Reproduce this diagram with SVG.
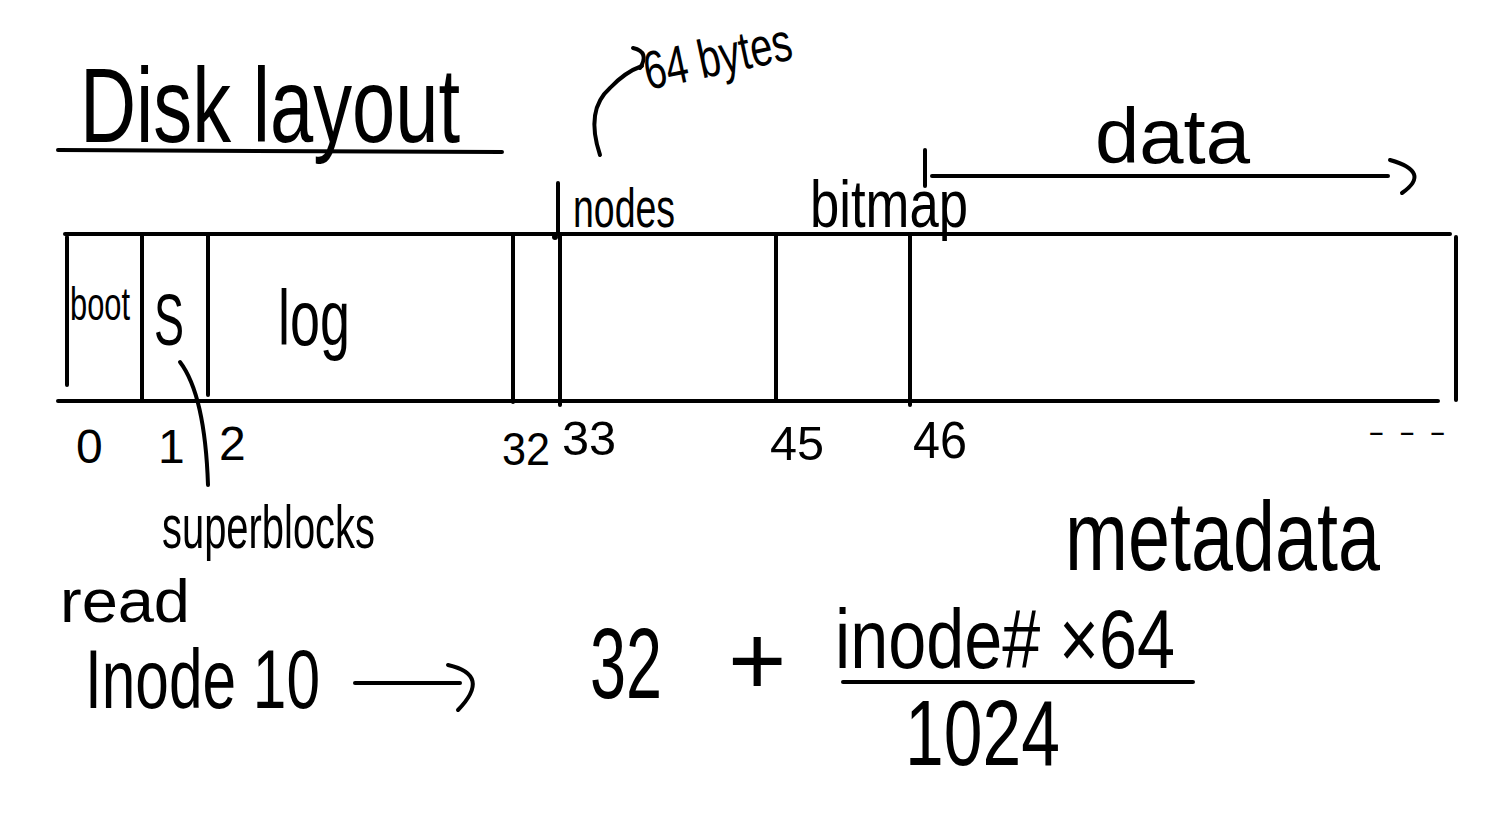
<svg xmlns="http://www.w3.org/2000/svg" width="1505" height="835" viewBox="0 0 1505 835">
<style>
.ln{stroke:#000;stroke-width:4;fill:none;stroke-linecap:round;stroke-linejoin:round}
.t{font-family:"Liberation Sans",Arial,sans-serif;fill:#000}
</style>
<rect width="1505" height="835" fill="#fff"/>
<g id="title">
<text class="t" x="80" y="142" font-size="105" textLength="380" lengthAdjust="spacingAndGlyphs">Disk layout</text>
<line class="ln" x1="58" y1="150" x2="502" y2="152"/>
</g>
<g id="disk">
<line class="ln" x1="65" y1="234" x2="1450" y2="234"/>
<line class="ln" x1="58" y1="401" x2="1438" y2="401"/>
<line class="ln" x1="67" y1="237" x2="67" y2="385"/>
<line class="ln" x1="142" y1="235" x2="142" y2="400"/>
<line class="ln" x1="208" y1="235" x2="208" y2="395"/>
<line class="ln" x1="513" y1="235" x2="513" y2="402"/>
<line class="ln" x1="560" y1="235" x2="560" y2="405"/>
<line class="ln" x1="776" y1="235" x2="776" y2="400"/>
<line class="ln" x1="910" y1="235" x2="910" y2="405"/>
<line class="ln" x1="1456" y1="237" x2="1456" y2="400"/>
<circle cx="555" cy="237" r="3" fill="#000"/>
</g>
<g id="boot"><text class="t" x="70" y="320" font-size="46" textLength="60" lengthAdjust="spacingAndGlyphs">boot</text></g>
<g id="superblock"><text class="t" x="154" y="345" font-size="72" textLength="30" lengthAdjust="spacingAndGlyphs">S</text></g>
<g id="log"><text class="t" x="278" y="345" font-size="78" textLength="72" lengthAdjust="spacingAndGlyphs">log</text></g>
<g id="inodes">
<line class="ln" x1="558" y1="183" x2="558" y2="232"/>
<text class="t" x="573" y="227" font-size="56" textLength="102" lengthAdjust="spacingAndGlyphs">nodes</text>
</g>
<g id="bitmap"><text class="t" x="810" y="227" font-size="66" textLength="158" lengthAdjust="spacingAndGlyphs">bitmap</text></g>
<g id="data">
<text class="t" x="1095" y="163" font-size="78" textLength="155" lengthAdjust="spacingAndGlyphs">data</text>
</g>
<g id="bytes64">
<text class="t" x="648" y="90" font-size="54" textLength="150" lengthAdjust="spacingAndGlyphs" transform="rotate(-12 648 90)">64 bytes</text>
</g>
<g id="numbers">
<text class="t" x="76" y="463" font-size="48">0</text>
<text class="t" x="158" y="463" font-size="48">1</text>
<text class="t" x="219" y="460" font-size="48">2</text>
<text class="t" x="502" y="465" font-size="46" textLength="48" lengthAdjust="spacingAndGlyphs">32</text>
<text class="t" x="562" y="455" font-size="48" textLength="54" lengthAdjust="spacingAndGlyphs">33</text>
<text class="t" x="770" y="460" font-size="48" textLength="54" lengthAdjust="spacingAndGlyphs">45</text>
<text class="t" x="913" y="458" font-size="52" textLength="54" lengthAdjust="spacingAndGlyphs">46</text>
<text class="t" x="1368" y="442" font-size="30" textLength="78" lengthAdjust="spacingAndGlyphs">- - -</text>
</g>
<g id="superblocks-label"><text class="t" x="162" y="548" font-size="62" textLength="213" lengthAdjust="spacingAndGlyphs">superblocks</text></g>
<g id="read"><text class="t" x="60" y="622" font-size="62" textLength="130" lengthAdjust="spacingAndGlyphs">read</text></g>
<g id="inode10"><text class="t" x="85" y="708" font-size="84" textLength="235" lengthAdjust="spacingAndGlyphs">Inode 10</text></g>
<g id="formula">
<text class="t" x="590" y="698" font-size="100" textLength="72" lengthAdjust="spacingAndGlyphs">32</text>
<text class="t" x="728" y="695" font-size="100">+</text>
<text class="t" x="835" y="668" font-size="84" textLength="340" lengthAdjust="spacingAndGlyphs">inode# ×64</text>
<line class="ln" x1="843" y1="682" x2="1193" y2="682"/>
<text class="t" x="905" y="765" font-size="92" textLength="155" lengthAdjust="spacingAndGlyphs">1024</text>
</g>
<g id="metadata"><text class="t" x="1065" y="570" font-size="98" textLength="315" lengthAdjust="spacingAndGlyphs">metadata</text></g>
<g id="connectors">
<path class="ln" d="M180 362 Q205 395 208 485"/>
<path class="ln" d="M600 155 Q585 110 610 88 Q625 72 642 66"/>
<path class="ln" d="M633 48 Q650 52 640 68"/>
<line class="ln" x1="925" y1="150" x2="925" y2="186"/>
<line class="ln" x1="932" y1="176" x2="1388" y2="176"/>
<path class="ln" d="M1390 160 Q1432 172 1402 193"/>
<line class="ln" x1="355" y1="683" x2="460" y2="683"/>
<path class="ln" d="M448 665 Q492 675 458 710"/>
</g>
</svg>
